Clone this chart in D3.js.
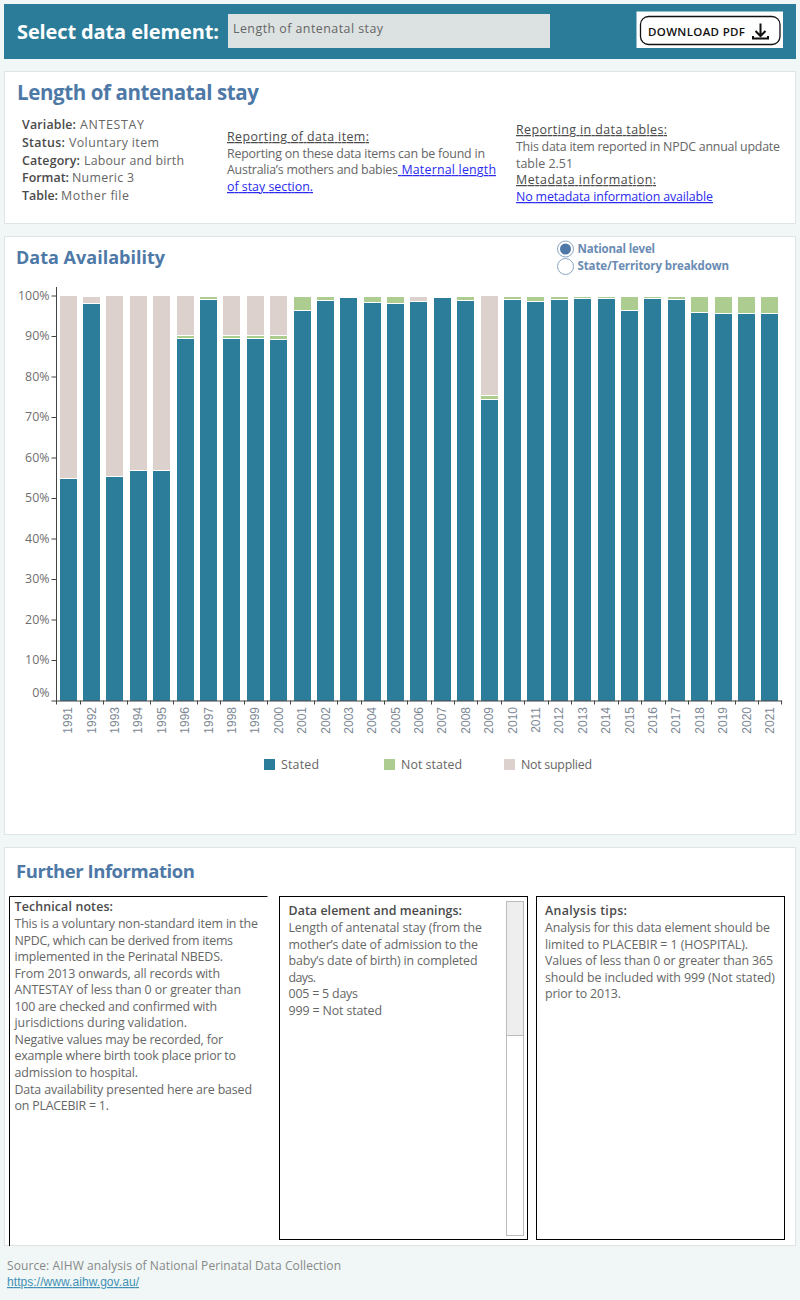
<!DOCTYPE html>
<html><head><meta charset="utf-8">
<script src="https://cdn.jsdelivr.net/npm/d3@7/dist/d3.min.js"></script>
<style>
html,body{margin:0;padding:0;background:#f0f7f6;}
svg{display:block;font-family:"Open Sans",Lato,sans-serif;}
</style></head><body><svg id="c" width="800" height="1300"></svg>
<script>
const years=d3.range(1991,2022).map(String);
const stated=[54.8,98.0,55.1,56.6,56.6,89.3,98.9,89.3,89.3,89.1,96.2,98.7,99.4,98.2,98.0,98.5,99.4,98.7,74.2,99.0,98.5,99.0,99.2,99.2,96.2,99.2,99.0,95.8,95.5,95.5,95.5];
const notStated=[0,0,0,0,0,0.8,0.7,0.8,0.8,1.0,3.4,0.9,0,1.4,1.6,0,0,0.9,1.0,0.6,1.1,0.6,0.4,0.4,3.4,0.4,0.6,3.8,4.1,4.1,4.1];
const notSupplied=[45.2,1.6,44.9,43.4,43.4,9.9,0,9.9,9.9,9.9,0,0,0,0,0,1.1,0,0,24.8,0,0,0,0,0,0,0,0,0,0,0,0];
const seriesNames=["Stated","Not stated","Not supplied"];
const seriesColors=["#2c7d9a","#adcd90","#ddd1cd"];
const yTicks=d3.range(0,101,10);

const svg=d3.select("#c");
const BODY="#666",HEAD="#4a4a4a",BLUE="#4e79a7",LINK="#2a2aee";
function rect(x,y,w,h,fill,stroke,sw){return svg.append("rect").attr("x",x).attr("y",y).attr("width",w).attr("height",h).attr("fill",fill||"none").attr("stroke",stroke||"none").attr("stroke-width",sw||1);}
function txt(x,y,s,x2,o={}){
  const t=svg.append("text").attr("x",x).attr("y",y).text(s)
   .attr("font-size",o.size||12.4).attr("fill",o.fill||BODY).attr("font-weight",o.weight||400)
   .style("white-space","pre");
  if(x2) t.attr("textLength",x2-x).attr("lengthAdjust","spacing");
  if(o.u) t.attr("text-decoration","underline");
  if(o.font) t.attr("font-family",o.font);
  return t;
}
// panels
rect(4,4,792,55,"#2b7c99");
rect(228,14,322,34,"#dce1e1");
rect(636.5,11.5,146.5,36.5,"#fff");
svg.append("rect").attr("x",640.5).attr("y",16.5).attr("width",139.5).attr("height",28).attr("rx",8).attr("fill","#fff").attr("stroke","#111").attr("stroke-width",1.3);
rect(4.5,71.5,791,152,"#fff","#dde6e4");
rect(4.5,236.5,791,598,"#fff","#dde6e4");
rect(4.5,847.5,791,398,"#fff","#dde6e4");

// header
txt(17,39,"Select data element:",219,{size:20,weight:700,fill:"#fff"});
txt(233,33,"Length of antenatal stay",383,{size:12.4});
txt(648,35.5,"DOWNLOAD PDF",745,{size:11.5,weight:600,fill:"#111"});
svg.append("path").attr("d","M760.5 23.5V35.5M755.5 31L760.5 36L765.5 31").attr("fill","none").attr("stroke","#111").attr("stroke-width",2);
svg.append("path").attr("d","M753 36V38.5H768V36").attr("fill","none").attr("stroke","#111").attr("stroke-width",2);

// item panel
txt(17,100,"Length of antenatal stay",259,{size:20.5,weight:700,fill:BLUE});
[[129,"Variable:",76,80,"ANTESTAY",144],[147,"Status:",65,69,"Voluntary item",159],[165,"Category:",80,84,"Labour and birth",184],[182,"Format:",69,72,"Numeric 3",134],[200,"Table:",58,61,"Mother file",129]].forEach(r=>{
  txt(22,r[0],r[1],r[2],{weight:600,fill:HEAD});
  txt(r[3],r[0],r[4],r[5]);
});
txt(227,141,"Reporting of data item:",369,{u:1,fill:HEAD,weight:500});
txt(227,158,"Reporting on these data items can be found in",485);
txt(227,174,"Australia’s mothers and babies",398);
txt(398,174," Maternal length",496,{u:1,fill:LINK});
txt(227,191,"of stay section.",313,{u:1,fill:LINK});
txt(516,134,"Reporting in data tables:",667,{u:1,fill:HEAD,weight:500});
txt(516,151,"This data item reported in NPDC annual update",780);
txt(516,168,"table 2.51",573);
txt(516,184,"Metadata information:",656,{u:1,fill:HEAD,weight:500});
txt(516,201,"No metadata information available",713,{u:1,fill:LINK});

// chart panel
txt(16,264,"Data Availability",165,{size:18,weight:700,fill:BLUE});
svg.append("circle").attr("cx",565.5).attr("cy",249).attr("r",8).attr("fill","#fff").attr("stroke","#8aa5c4");
svg.append("circle").attr("cx",565.5).attr("cy",249).attr("r",5.5).attr("fill",BLUE);
svg.append("circle").attr("cx",565.5).attr("cy",266.5).attr("r",8).attr("fill","#fff").attr("stroke","#8aa5c4");
txt(577.5,253,"National level",655,{size:11.5,weight:700,fill:"#6a8bb3"});
txt(577.5,270,"State/Territory breakdown",729,{size:11.5,weight:700,fill:"#6a8bb3"});

const x=d3.scaleBand().domain(years).range([56.45,781.55]);
const y=d3.scaleLinear().domain([0,100]).range([700.5,295.5]);
const barW=17;
const rows=years.map((yr,i)=>({yr,Stated:stated[i],"Not stated":notStated[i],"Not supplied":notSupplied[i]}));
const stack=d3.stack().keys(seriesNames)(rows);
const g=svg.append("g");
stack.forEach((s,si)=>{
  g.append("g").attr("fill",seriesColors[si]).selectAll("rect").data(s).join("rect")
   .attr("x",d=>Math.round(x(d.data.yr)+(x.bandwidth()-barW)/2))
   .attr("width",barW)
   .attr("y",d=>Math.round(y(d[1])))
   .attr("height",d=>{
     const top=Math.round(y(d[1])),bot=Math.round(y(d[0]))-(si?1:0);
     return Math.max(0,bot-top);
   });
});
const DK="#444";
const yAxis=svg.append("g").attr("transform","translate(56.5,0)")
  .call(d3.axisLeft(y).tickValues(yTicks).tickFormat(d=>d+"%").tickSize(5).tickPadding(2));
yAxis.select(".domain").remove();
yAxis.selectAll("line").attr("stroke",DK);
yAxis.selectAll("text").attr("font-family","Open Sans").attr("font-size",12.4).attr("fill","#6f6f6f");
yAxis.selectAll(".tick").filter(d=>d===0).select("text").attr("dy","-0.34em");
svg.append("line").attr("x1",56.5).attr("x2",56.5).attr("y1",287).attr("y2",701).attr("stroke",DK);
const xAxis=svg.append("g").attr("transform","translate(0,700.5)")
  .call(d3.axisBottom(x).tickSize(0).tickPadding(0));
xAxis.select(".domain").attr("stroke",DK);
xAxis.selectAll("text").attr("transform","rotate(-90)").attr("text-anchor","end").attr("x",-6.5).attr("y",0).attr("dy","0.34em")
  .attr("font-family","Liberation Sans").attr("font-size",12).attr("fill","#7d8894");
svg.append("g").selectAll("line").data(years.concat(["end"])).join("line")
  .attr("x1",d=>d==="end"?x.range()[1]:Math.round(x(d))+0.5).attr("x2",d=>d==="end"?x.range()[1]:Math.round(x(d))+0.5)
  .attr("y1",700.5).attr("y2",704.5).attr("stroke",DK);

// legend
[[264,281,319],[384,401,462],[504,521,592]].forEach((p,i)=>{
  rect(p[0],759,11,11,seriesColors[i]);
  txt(p[1],769,seriesNames[i],p[2]);
});

// further information
txt(16,878,"Further Information",195,{size:18.5,weight:700,fill:BLUE});
svg.append("path").attr("d","M9.5 1246V896.5H267.5").attr("fill","none").attr("stroke","#000");
rect(279.5,896.5,248,343,"#fff","#000");
rect(536.5,896.5,248,343,"#fff","#000");
rect(506.5,901.5,17,334,"#fff","#bbb");
rect(506.5,901.5,17,134,"#eee","#bbb");

txt(14.5,911,"Technical notes:",113,{weight:600,fill:HEAD});
const tech=[["This is a voluntary non-standard item in the",258],["NPDC, which can be derived from items",233],["implemented in the Perinatal NBEDS.",223],["From 2013 onwards, all records with",220],["ANTESTAY of less than 0 or greater than",241],["100 are checked and confirmed with",217],["jurisdictions during validation.",187],["Negative values may be recorded, for",223],["example where birth took place prior to",236],["admission to hospital.",138],["Data availability presented here are based",252],["on PLACEBIR = 1.",109]];
tech.forEach((l,i)=>txt(14.5,928+i*16.56,l[0],l[1]));
txt(288.5,915,"Data element and meanings:",462,{weight:600,fill:HEAD});
[["Length of antenatal stay (from the",482],["mother’s date of admission to the",478],["baby’s date of birth) in completed",477.5],["days.",316],["005 = 5 days",358],["999 = Not stated",382]].forEach((l,i)=>txt(288.5,932+i*16.6,l[0],l[1]));
txt(545,915,"Analysis tips:",627,{weight:600,fill:HEAD});
[["Analysis for this data element should be",770],["limited to PLACEBIR = 1 (HOSPITAL).",748],["Values of less than 0 or greater than 365",773],["should be included with 999 (Not stated)",775],["prior to 2013.",621]].forEach((l,i)=>txt(545,932+i*16.6,l[0],l[1]));

// footer
txt(7,1270,"Source: AIHW analysis of National Perinatal Data Collection",341,{size:12,fill:"#888"});
txt(7,1286,"https://www.aihw.gov.au/",139,{size:12,fill:"#3f8fb5",u:1,font:"Liberation Sans"});
</script></body></html>
